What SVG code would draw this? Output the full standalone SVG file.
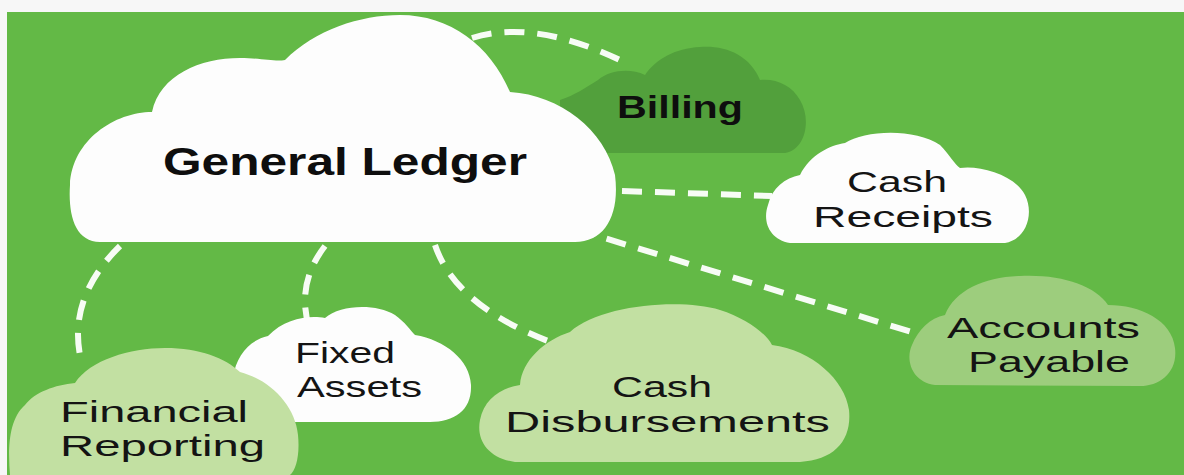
<svg xmlns="http://www.w3.org/2000/svg" width="1184" height="475" viewBox="0 0 1184 475">
  <style>
    .conn { fill: none; stroke: #ffffff; stroke-width: 6; stroke-dasharray: 20 13; stroke-linecap: butt; opacity: 0.95; }
    .white { fill: #fdfdfd; }
    .dark { fill: #52a03c; }
    .light { fill: #c2e0a2; }
    .mid { fill: #9dcd7d; }
    .lbl { font-family: "Liberation Sans", Arial, sans-serif; font-size: 30px; fill: #141414; }
    .bold { font-family: "Liberation Sans", Arial, sans-serif; font-weight: bold; fill: #0e0e0e; }
  </style>
  <rect x="0" y="0" width="1184" height="475" fill="#f7f7f7"/>
  <rect x="7" y="12" width="1177" height="463" fill="#63b946"/>

  <g id="connectors">
    <path class="conn" d="M 472 38 Q 536 18 628 64"/>
    <path class="conn" d="M 622 191 L 772 196"/>
    <path class="conn" d="M 575 229 L 918 334"/>
    <path class="conn" d="M 435 245 Q 455 305 548 341"/>
    <path class="conn" d="M 325 246 Q 295 285 310 330"/>
    <path class="conn" d="M 120 246 Q 65 300 82 364"/>
  </g>

  <g id="billing">
    <path class="dark" d="M 560 153 L 785 153 C 805 150 812 120 800 100 C 792 85 775 78 760 80 C 750 55 725 45 700 47 C 675 48 655 60 645 75 C 630 68 610 70 598 80 C 585 88 575 95 560 100 Z"/>
    <text class="bold" x="617" y="118" font-size="31" textLength="126" lengthAdjust="spacingAndGlyphs">Billing</text>
  </g>

  <g id="general-ledger">
    <path class="white" d="M 100 242 C 75 242 68 215 70 185 C 72 140 115 112 152 112 C 160 75 200 58 240 58 C 262 58 275 62 285 60 C 315 30 360 15 400 15 C 450 15 490 45 510 92 C 560 95 605 130 615 175 C 620 215 605 242 575 242 Z"/>
    <text class="bold" x="163" y="175" font-size="39" textLength="364" lengthAdjust="spacingAndGlyphs">General Ledger</text>
  </g>

  <g id="cash-receipts">
    <path class="white" d="M 790 243 C 770 240 762 222 768 205 C 772 188 785 178 800 175 C 810 155 830 145 845 143 C 865 130 915 128 940 145 C 950 155 955 165 960 168 C 980 165 1015 175 1025 195 C 1035 215 1025 240 1005 243 Z"/>
    <text class="lbl" x="847" y="192" font-size="31" textLength="100" lengthAdjust="spacingAndGlyphs">Cash</text>
    <text class="lbl" x="813" y="227" font-size="31" textLength="180" lengthAdjust="spacingAndGlyphs">Receipts</text>
  </g>

  <g id="accounts-payable">
    <path class="mid" d="M 935 385 C 912 382 905 360 912 345 C 918 330 930 318 945 315 C 955 290 985 277 1020 276 C 1060 274 1095 285 1108 305 C 1140 305 1172 320 1175 348 C 1178 372 1160 386 1140 386 Z"/>
    <text class="lbl" x="947" y="338" textLength="193" lengthAdjust="spacingAndGlyphs">Accounts</text>
    <text class="lbl" x="968" y="372" textLength="162" lengthAdjust="spacingAndGlyphs">Payable</text>
  </g>

  <g id="cash-disbursements">
    <path class="light" d="M 515 462 C 488 458 476 440 480 420 C 484 400 500 388 520 385 C 522 360 545 340 570 332 C 600 305 680 298 720 310 C 745 318 765 332 772 345 C 812 350 845 380 849 410 C 852 440 835 460 800 462 Z"/>
    <text class="lbl" x="612" y="397" font-size="31" textLength="100" lengthAdjust="spacingAndGlyphs">Cash</text>
    <text class="lbl" x="505" y="432" font-size="31" textLength="325" lengthAdjust="spacingAndGlyphs">Disbursements</text>
  </g>

  <g id="fixed-assets">
    <path class="white" d="M 280 422 C 255 420 232 400 233 378 C 236 355 250 340 268 336 C 285 318 310 315 325 318 C 340 305 375 303 395 315 C 405 322 410 330 415 335 C 445 340 470 360 471 385 C 472 410 455 422 430 422 Z"/>
    <text class="lbl" x="295" y="363" textLength="100" lengthAdjust="spacingAndGlyphs">Fixed</text>
    <text class="lbl" x="297" y="397" textLength="125" lengthAdjust="spacingAndGlyphs">Assets</text>
  </g>

  <g id="financial-reporting">
    <path class="light" d="M 10 475 C 8 450 8 420 25 405 C 35 392 55 385 75 383 C 90 360 130 348 165 348 C 200 348 225 358 240 372 C 270 380 295 405 298 435 C 300 455 296 470 290 475 Z"/>
    <text class="lbl" x="60" y="422" textLength="188" lengthAdjust="spacingAndGlyphs">Financial</text>
    <text class="lbl" x="60" y="456" textLength="205" lengthAdjust="spacingAndGlyphs">Reporting</text>
  </g>
</svg>
